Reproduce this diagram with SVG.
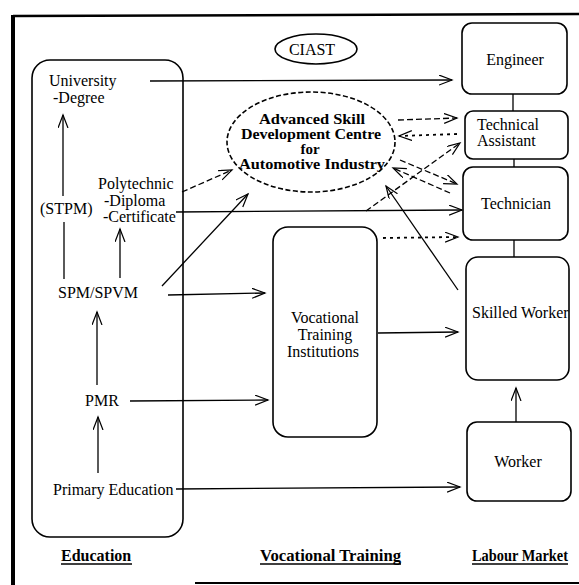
<svg xmlns="http://www.w3.org/2000/svg" width="579" height="585" viewBox="0 0 579 585">
  <style>
    .t { font-family: "Liberation Serif", "Times New Roman", serif; font-size: 16px; fill: #000; }
    .b { font-weight: bold; }
    .c { font-size: 15px; }
    .box { fill: none; stroke: #000; stroke-width: 1.6; }
    .ln { fill: none; stroke: #000; stroke-width: 1.3; }
    .dash { stroke-dasharray: 6 3; }
    .dot { stroke-dasharray: 3 4; stroke-width: 1.8; }
  </style>
  <defs>
    <marker id="arr" markerUnits="userSpaceOnUse" markerWidth="16" markerHeight="12" refX="13" refY="5" orient="auto">
      <path d="M0,0 L13,5 L0,10" fill="none" stroke="#000" stroke-width="1.2"/>
    </marker>
  </defs>

  <rect width="579" height="585" fill="#fff"/>

  <!-- page frame -->
  <g id="frame" fill="none" stroke="#000">
    <line x1="13" y1="16" x2="579" y2="14" stroke-width="2.5"/>
    <line x1="13" y1="15" x2="13" y2="585" stroke-width="4"/>
    <line x1="195" y1="583" x2="579" y2="583" stroke-width="2"/>
  </g>

  <!-- education column -->
  <g id="education">
    <rect class="box" x="32" y="60" width="151" height="477" rx="18"/>
    <text class="t" x="49" y="86">University</text>
    <text class="t" x="53" y="103">-Degree</text>
    <text class="t" x="40" y="214">(STPM)</text>
    <text class="t" x="98" y="189">Polytechnic</text>
    <text class="t" x="104" y="206">-Diploma</text>
    <text class="t" x="103" y="222">-Certificate</text>
    <text class="t" x="58" y="298">SPM/SPVM</text>
    <text class="t" x="85" y="406">PMR</text>
    <text class="t" x="53" y="495">Primary Education</text>
  </g>

  <g id="ciast">
    <ellipse class="box" cx="316" cy="49" rx="41" ry="15"/>
    <text class="t" x="312" y="55" text-anchor="middle" font-size="15">CIAST</text>
  </g>

  <g id="asdc">
    <ellipse class="box" cx="311" cy="142" rx="84" ry="50" stroke-dasharray="5 2.5"/>
    <text class="t b c" x="312" y="124" text-anchor="middle" textLength="106" lengthAdjust="spacingAndGlyphs">Advanced Skill</text>
    <text class="t b c" x="311" y="139" text-anchor="middle" textLength="140" lengthAdjust="spacingAndGlyphs">Development Centre</text>
    <text class="t b c" x="310" y="154" text-anchor="middle">for</text>
    <text class="t b c" x="312" y="169" text-anchor="middle" textLength="146" lengthAdjust="spacingAndGlyphs">Automotive Industry</text>
  </g>

  <g id="vocational">
    <rect class="box" x="273" y="227" width="104" height="210" rx="15"/>
    <text class="t" x="325" y="323" text-anchor="middle">Vocational</text>
    <text class="t" x="325" y="340" text-anchor="middle">Training</text>
    <text class="t" x="323" y="357" text-anchor="middle">Institutions</text>
  </g>

  <g id="engineer">
    <rect class="box" x="462" y="23" width="105" height="71" rx="10"/>
    <text class="t" x="515" y="65" text-anchor="middle">Engineer</text>
  </g>
  <g id="technical-assistant">
    <rect class="box" x="465" y="111" width="103" height="48" rx="8"/>
    <text class="t" x="477" y="130">Technical</text>
    <text class="t" x="477" y="146">Assistant</text>
  </g>
  <g id="technician">
    <rect class="box" x="463" y="167" width="105" height="73" rx="10"/>
    <text class="t" x="516" y="209" text-anchor="middle">Technician</text>
  </g>
  <g id="skilled-worker">
    <rect class="box" x="466" y="257" width="103" height="123" rx="12"/>
    <text class="t" x="472" y="318">Skilled Worker</text>
  </g>
  <g id="worker">
    <rect class="box" x="467" y="422" width="104" height="79" rx="10"/>
    <text class="t" x="518" y="467" text-anchor="middle">Worker</text>
  </g>

  <!-- column headings -->
  <g id="headings">
    <text class="t b" x="61" y="561">Education</text>
    <line x1="61" y1="564" x2="132" y2="564" stroke="#000" stroke-width="1.6"/>
    <text class="t b" x="260" y="561" textLength="141" lengthAdjust="spacingAndGlyphs">Vocational Training</text>
    <line x1="260" y1="564" x2="401" y2="564" stroke="#000" stroke-width="1.6"/>
    <text class="t b" x="472" y="561" font-size="15" textLength="96" lengthAdjust="spacingAndGlyphs">Labour Market</text>
    <line x1="472" y1="564" x2="568" y2="564" stroke="#000" stroke-width="1.6"/>
  </g>

  <g id="connectors">
    <!-- education ladder -->
    <line class="ln" x1="63" y1="196" x2="63" y2="115" marker-end="url(#arr)"/>
    <line class="ln" x1="64" y1="222" x2="64" y2="279"/>
    <line class="ln" x1="120" y1="278" x2="120" y2="229" marker-end="url(#arr)"/>
    <line class="ln" x1="97" y1="385" x2="97" y2="312" marker-end="url(#arr)"/>
    <line class="ln" x1="98" y1="473" x2="98" y2="417" marker-end="url(#arr)"/>

    <!-- labour market ladder -->
    <line class="ln" x1="513" y1="94" x2="513" y2="111"/>
    <line class="ln" x1="514" y1="159" x2="514" y2="167"/>
    <line class="ln" x1="514" y1="240" x2="514" y2="257"/>
    <line class="ln" x1="516" y1="422" x2="516" y2="388" marker-end="url(#arr)"/>

    <!-- education to market / training -->
    <line class="ln" x1="150" y1="81" x2="452" y2="80" marker-end="url(#arr)"/>
    <line class="ln" x1="176" y1="212" x2="462" y2="210" marker-end="url(#arr)"/>
    <line class="ln" x1="168" y1="295" x2="265" y2="293" marker-end="url(#arr)"/>
    <line class="ln" x1="130" y1="401" x2="268" y2="400" marker-end="url(#arr)"/>
    <line class="ln" x1="176" y1="489" x2="460" y2="487" marker-end="url(#arr)"/>
    <line class="ln" x1="378" y1="333" x2="458" y2="332" marker-end="url(#arr)"/>

    <!-- links with the skill centre -->
    <line class="ln dash" x1="182" y1="192" x2="232" y2="170" marker-end="url(#arr)"/>
    <line class="ln" x1="162" y1="286" x2="248" y2="194" marker-end="url(#arr)"/>
    <line class="ln" x1="458" y1="290" x2="386" y2="186" marker-end="url(#arr)"/>
    <line class="ln dash" x1="398" y1="120" x2="457" y2="118" marker-end="url(#arr)"/>
    <line class="ln dot" x1="457" y1="134" x2="399" y2="136" marker-end="url(#arr)"/>
    <line class="ln dash" x1="366" y1="211" x2="460" y2="143" marker-end="url(#arr)"/>
    <line class="ln dash" x1="400" y1="160" x2="457" y2="184" marker-end="url(#arr)"/>
    <line class="ln dash" x1="450" y1="193" x2="393" y2="168" marker-end="url(#arr)"/>
    <line class="ln dot" x1="383" y1="238" x2="458" y2="237" marker-end="url(#arr)"/>
  </g>
</svg>
